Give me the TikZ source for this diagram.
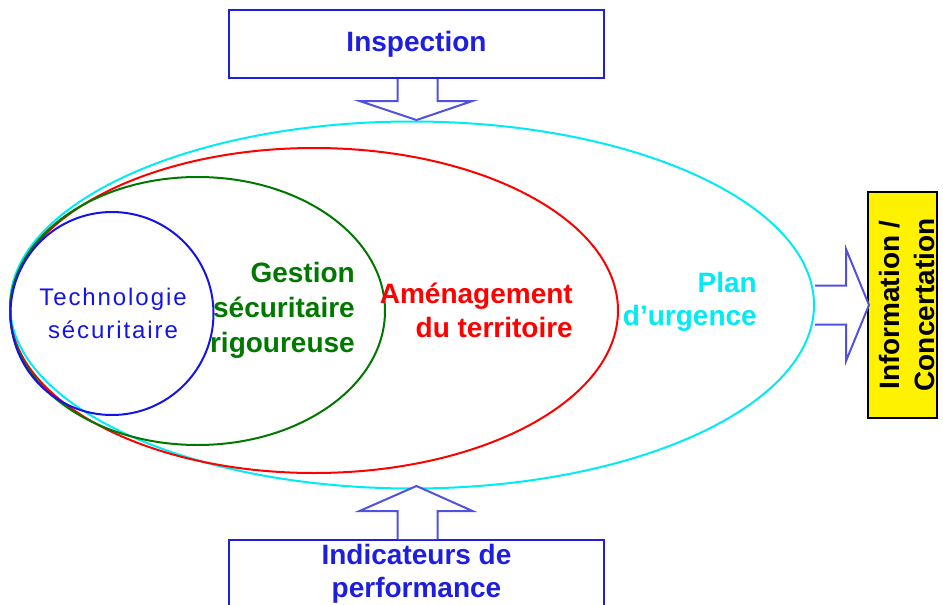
\documentclass[tikz,border=0pt]{standalone}
\usepackage{fontspec}
\setmainfont{Liberation Sans}
\usetikzlibrary{shapes.geometric}
\definecolor{boxblue}{RGB}{30,30,225}
\definecolor{arrowblue}{RGB}{80,80,225}
\definecolor{ringcyan}{RGB}{0,235,245}
\definecolor{ringgreen}{RGB}{0,120,0}
\definecolor{ringred}{RGB}{255,0,0}
\definecolor{techblue}{RGB}{20,20,230}
\begin{document}
\begin{tikzpicture}[x=1pt,y=-1pt,
  ring/.style={ellipse, draw, line width=2pt, inner sep=0pt},
  lbl/.style={font=\fontsize{28}{35}\selectfont\bfseries, inner sep=0pt, align=right, anchor=east},
  frame/.style={draw=boxblue, line width=2pt, minimum width=375pt, minimum height=68pt, inner sep=0pt, align=center, text=boxblue, font=\fontsize{28}{33}\selectfont\bfseries},
  blockarrow/.style={draw=arrowblue, line width=2pt, fill=white, line join=miter}]
\useasboundingbox (0,0) rectangle (943,605);
% rings
\node[ring, draw=ringcyan, minimum width=804pt, minimum height=367pt] (plan) at (412,305) {};
\node[ring, draw=ringred, minimum width=608pt, minimum height=325pt] (amen) at (314,310.5) {};
\node[ring, draw=ringgreen, minimum width=375pt, minimum height=268pt] (gest) at (197.5,311) {};
\node[ring, draw=techblue, minimum width=203pt, minimum height=203pt] (tech) at (112,313.5) {};
% labels
\node[lbl, text=ringgreen] (gestlbl) at (355,310) {Gestion\\sécuritaire\\rigoureuse};
\node[lbl, text=ringred, font=\fontsize{28}{34}\selectfont\bfseries] (amenlbl) at (573,310) {Aménagement\\du territoire};
\node[lbl, text=ringcyan, font=\fontsize{28}{33}\selectfont\bfseries] (planlbl) at (757,301.5) {Plan\\d'urgence};
\node[font=\fontsize{24}{33}\selectfont\addfontfeature{LetterSpace=8}, text=techblue, align=center, inner sep=0pt] (techlbl) at (113,313.5) {Technologie\\sécuritaire};
% boxes
\node[frame] (insp) at (416.5,44) {Inspection};
\node[frame] (indic) at (416.5,574) {Indicateurs de\\performance};
\node[draw=black, line width=1.5pt, fill=yellow, rotate=90, minimum width=226pt, minimum height=69pt, inner sep=0pt] (info) at (902.5,305) {};
\node[rotate=90, inner sep=0pt, align=center, font=\fontsize{28}{35}\selectfont\bfseries] (infolbl) at (907,305) {Information /\\Concertation};
% block arrows
\draw[blockarrow] (insp.south) ++(-19,0) -- ++(0,22) -- ++(-38,0) -- ++(57,19) -- ++(56,-19) -- ++(-35,0) -- ++(0,-22);
\draw[blockarrow] (indic.north) ++(-19,0) -- ++(0,-28) -- ++(-38,0) -- ++(57,-25) -- ++(56,25) -- ++(-35,0) -- ++(0,28);
\draw[blockarrow] (plan.east) ++(0,-19.5) -- ++(31,0) -- ++(0,-36.5) -- ++(23,56) -- ++(-23,56) -- ++(0,-36.5) -- ++(-31,0);
\end{tikzpicture}
\end{document}
